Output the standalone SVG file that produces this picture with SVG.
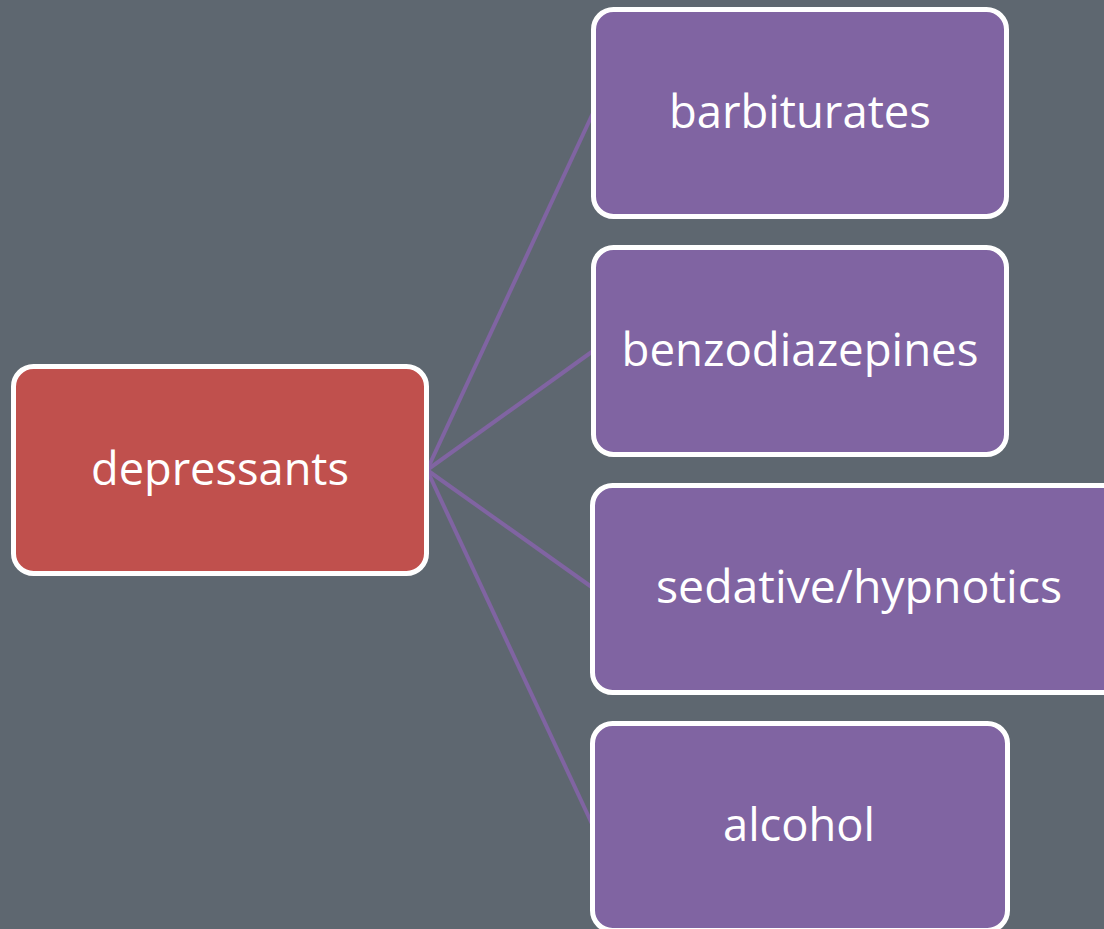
<svg xmlns="http://www.w3.org/2000/svg" width="1104" height="929" viewBox="0 0 1104 929">
<style>
.bg{fill:#5E6770}
.box{stroke:#FFFFFF;stroke-width:5}
.root{fill:#C0504D}
.leaf{fill:#8064A2}
.lbl{font-family:"Open Sans","Liberation Sans",sans-serif;font-size:46px;fill:#FFFFFF;text-anchor:middle}
.conn{stroke:#8064A2;stroke-width:4;fill:none}
</style>
<rect class="bg" x="0" y="0" width="1104" height="929"/>
<g id="connectors">
<line class="conn" x1="427" y1="470" x2="593" y2="113"/>
<line class="conn" x1="427" y1="470" x2="593" y2="351"/>
<line class="conn" x1="427" y1="470" x2="593" y2="588"/>
<line class="conn" x1="427" y1="470" x2="593" y2="826"/>
</g>
<g id="depressants">
<rect class="box root" x="13.5" y="366.5" width="413" height="207" rx="20"/>
<text class="lbl" x="220" y="485" textLength="258" lengthAdjust="spacingAndGlyphs">depressants</text>
</g>
<g id="barbiturates">
<rect class="box leaf" x="593.5" y="9.5" width="413" height="207" rx="20"/>
<text class="lbl" x="800" y="128" textLength="262" lengthAdjust="spacingAndGlyphs">barbiturates</text>
</g>
<g id="benzodiazepines">
<rect class="box leaf" x="593.5" y="247.5" width="413" height="207" rx="20"/>
<text class="lbl" x="800" y="366" textLength="357" lengthAdjust="spacingAndGlyphs">benzodiazepines</text>
</g>
<g id="sedative-hypnotics">
<rect class="box leaf" x="592.5" y="485.5" width="540" height="207" rx="20"/>
<text class="lbl" x="859" y="603" textLength="406" lengthAdjust="spacingAndGlyphs">sedative/hypnotics</text>
</g>
<g id="alcohol">
<rect class="box leaf" x="592.5" y="723.5" width="415" height="207" rx="20"/>
<text class="lbl" x="799" y="841" textLength="152" lengthAdjust="spacingAndGlyphs">alcohol</text>
</g>
</svg>
